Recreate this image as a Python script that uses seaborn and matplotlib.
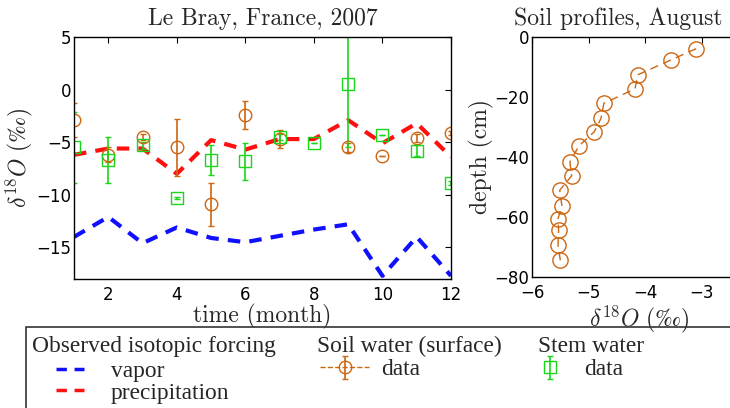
import numpy as np
import matplotlib
matplotlib.use('Agg')
import matplotlib.pyplot as plt
from matplotlib.patches import Rectangle
import seaborn as sns

# monthly isotopic forcing, Le Bray 2007
months = [1, 2, 3, 4, 5, 6, 7, 8, 9, 10, 11, 12]
vapor = [-14.0, -12.1, -14.6, -13.1, -14.1, -14.5, -13.9, -13.3, -12.8, -17.7, -14.0, -17.7]
precip = [-6.2, -5.6, -5.6, -8.0, -4.8, -5.7, -4.7, -4.7, -2.9, -5.1, -3.2, -6.4]

# soil water (surface) and stem water observations
soil = [-2.9, -6.2, -4.5, -5.5, -10.9, -2.4, -4.7, np.nan, -5.5, -6.3, -4.6, -4.1]
soil_err = [1.6, 0.7, 0.3, 2.7, 2.05, 1.3, 0.85, np.nan, 0.4, 0.0, 0.4, 0.2]
stem = [-5.5, -6.7, -5.3, -10.3, -6.7, -6.8, -4.5, -5.05, 0.5, -4.35, -5.8, -8.85]
stem_err = [3.4, 2.2, 0.3, 0.1, 1.4, 1.75, 0.3, 0.0, 6.0, 0.0, 0.5, 0.2]

# soil profile, August
profile_d18o = [-3.10, -3.55, -4.13, -4.18, -4.73, -4.78, -4.90, -5.17, -5.33, -5.30,
                -5.51, -5.47, -5.54, -5.53, -5.54, -5.50]
profile_depth = [-3.9, -7.7, -12.6, -17.3, -22.1, -27.1, -31.6, -36.3, -41.6, -46.3,
                 -51.1, -56.4, -60.5, -64.4, -69.4, -74.4]

orange = '#cc6611'
green = '#19d619'
serif_cm = ['cmr10', 'DejaVu Serif']
leg_font = {'family': 'Liberation Serif', 'size': 16.8}
d18o_label = r'$\delta^{18}O\ (‰)$'

sns.set_style('white')
plt.rcParams['font.family'] = ['DejaVu Sans']
plt.rcParams['mathtext.fontset'] = 'cm'
plt.rcParams['axes.unicode_minus'] = True

fig = plt.figure(figsize=(7.3, 4.08), dpi=100)
W, H = 730, 408
ax1 = fig.add_axes([74 / W, 1 - 279 / H, 377 / W, 242 / H])
ax2 = fig.add_axes([532 / W, 1 - 277 / H, 215 / W, 240 / H])

# left panel
sns.lineplot(x=months, y=vapor, ax=ax1, color='#1010ff', lw=3)
l_vap = ax1.lines[-1]
l_vap.set_dashes((3, 2.2))
sns.lineplot(x=months, y=precip, ax=ax1, color='#ff1010', lw=3)
l_pre = ax1.lines[-1]
l_pre.set_dashes((3, 2.2))

eb_soil = ax1.errorbar(months, soil, yerr=soil_err, fmt='o', ls='--', lw=1, color=orange,
                       mfc='none', mec=orange, ms=9, mew=1, capsize=2, elinewidth=1.2)
eb_stem = ax1.errorbar(months, stem, yerr=stem_err, fmt='s', color=green, mfc='none',
                       mec=green, ms=9, mew=1, capsize=2, elinewidth=1.2)

ax1.set_xlim(1, 12)
ax1.set_ylim(-18, 5)
ax1.set_xticks([2, 4, 6, 8, 10, 12])
ax1.set_yticks([5, 0, -5, -10, -15])
ax1.set_title('Le Bray, France, 2007', family=serif_cm, fontsize=17, pad=9)
ax1.set_xlabel('time (month)', family=serif_cm, fontsize=17, labelpad=0)
ax1.set_ylabel(d18o_label, fontsize=17, labelpad=1)

# right panel
sns.lineplot(x=profile_d18o, y=profile_depth, ax=ax2, sort=False, estimator=None,
             color=orange, lw=1, marker='o', ms=11, mfc='none', mec=orange, mew=1)
ax2.lines[-1].set_dashes((6, 4))
ax2.set_xlim(-6, -2.2)
ax2.set_ylim(-80, 0)
ax2.set_xticks([-6, -5, -4, -3])
ax2.set_yticks([0, -20, -40, -60, -80])
ax2.set_title('Soil profiles, August', family=serif_cm, fontsize=17, pad=9, x=0.40)
ax2.set_xlabel(d18o_label, fontsize=17, labelpad=1)
ax2.set_ylabel('depth (cm)', family=serif_cm, fontsize=17, labelpad=0)

for ax in (ax1, ax2):
    ax.tick_params(direction='in', length=4, width=0.8, labelsize=12, pad=2,
                   top=True, right=True, colors='black')
    ax.tick_params(axis='x', pad=5)
    for s in ax.spines.values():
        s.set_color('black')
        s.set_linewidth(1)

# legend box with three groups
fig.add_artist(Rectangle((26 / W, -0.2), 1.2, 1 - 327 / H + 0.2, transform=fig.transFigure,
                         fill=False, edgecolor='#333333', lw=1.2))
for x, txt in [(32, 'Observed isotopic forcing'), (317, 'Soil water (surface)'), (538, 'Stem water')]:
    fig.text(x / W, 1 - 352 / H, txt, va='baseline', ha='left', **leg_font)

common = dict(loc='upper left', bbox_transform=fig.transFigure, frameon=False, borderpad=0,
              borderaxespad=0, prop=leg_font, labelspacing=0.0)
lg1 = fig.legend([l_vap, l_pre], ['vapor', 'precipitation'], bbox_to_anchor=(56 / W, 1 - 361 / H),
                 handlelength=1.2, handletextpad=1.15, **common)
for h in lg1.get_lines():
    h.set_linewidth(2.5)
lg2 = fig.legend([eb_soil], ['data'], bbox_to_anchor=(320 / W, 1 - 359 / H),
                 handlelength=2.1, handletextpad=0.5, **common)
lg3 = fig.legend([eb_stem], ['data'], bbox_to_anchor=(525 / W, 1 - 359 / H),
                 handlelength=2.1, handletextpad=0.45, **common)

# soil points are not connected in the time series panel
eb_soil[0].set_linestyle('none')

fig.savefig('out.png', dpi=100)
